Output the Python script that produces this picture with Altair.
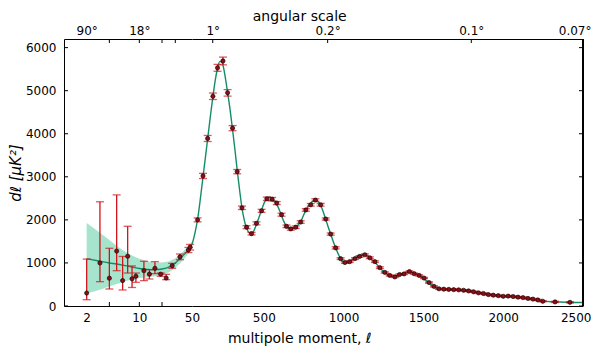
import altair as alt
import pandas as pd

# ---------------- data ----------------
# low-l points (log panel)
ell_low = [2, 3, 4, 5, 6, 7, 8, 9, 11.5, 13.6, 16.1, 19.2, 22.7, 27.3, 34.6, 44.8, 47.2]
d_low = [300, 1000, 645, 1275, 590, 1155, 630, 690, 820, 740, 875, 740, 650, 935, 1140, 1300, 1365]
lo_low = [146, 565, 395, 820, 372, 766, 430, 550, 589, 627, 751, 689, 611, 875, 1075, 1240, 1300]
hi_low = [1090, 2420, 1340, 2580, 1150, 1851, 930, 766, 1038, 843, 1030, 766, 736, 990, 1207, 1360, 1430]

# high-l binned points (linear panel)
ell_high = [85, 119, 148, 181, 210, 244, 273, 304, 333, 363,
            392, 423, 454, 486, 519, 552, 581, 611, 642, 669,
            700, 731, 763, 794, 823, 856, 888, 919, 950, 981,
            1008, 1038, 1071, 1100, 1133, 1164, 1196, 1227, 1258, 1289,
            1321, 1350, 1379, 1412, 1442, 1473, 1504, 1535, 1566, 1597,
            1628, 1659, 1690, 1721, 1752, 1783, 1814, 1845, 1876, 1907,
            1938, 1969, 2000, 2031, 2062, 2093, 2124, 2155, 2186, 2217,
            2248, 2325, 2418]
d_high = [2000, 3020, 3890, 4870, 5530, 5690, 4950, 4130, 3120, 2280,
          1830, 1680, 1920, 2210, 2490, 2480, 2390, 2120, 1850, 1790,
          1830, 1950, 2230, 2350, 2460, 2350, 2020, 1670, 1350, 1100,
          1010, 1030, 1100, 1150, 1190, 1120, 1030, 890, 780, 710,
          675, 730, 745, 800, 750, 710, 650, 545, 455, 400,
          390, 385, 380, 375, 365, 350, 330, 305, 290, 265,
          250, 240, 225, 230, 220, 205, 195, 175, 160, 140,
          110, 95, 85]
err_high = [45, 60, 70, 75, 80, 90, 75, 60, 50, 40,
            35, 30, 35, 35, 40, 40, 35, 35, 30, 30,
            30, 30, 30, 30, 30, 30, 25, 25, 25, 20,
            20, 20, 20, 20, 20, 20, 20, 20, 15, 15,
            15, 15, 15, 15, 15, 15, 15, 15, 15, 15,
            15, 15, 15, 15, 15, 15, 15, 15, 15, 15,
            15, 15, 15, 15, 15, 15, 15, 15, 15, 15,
            15, 15, 15]

# best-fit model curve
model_l_low = [2, 3, 4, 5, 6, 8, 10, 13, 16, 20, 25, 30, 35, 40, 45, 50]
model_d_low = [1100, 1040, 1000, 975, 950, 905, 870, 850, 845, 860, 910, 1000, 1110, 1210, 1310, 1430]
band_hi = [1930, 1700, 1530, 1400, 1300, 1170, 1100, 1040, 1010, 1010, 1040, 1110, 1210, 1300, 1390, 1500]
band_lo = [290, 380, 450, 510, 560, 620, 650, 670, 690, 720, 790, 880, 1000, 1110, 1220, 1360]

model_l_high = [50, 60, 70, 85, 100, 119, 135, 148, 165, 181, 195, 210, 225, 238, 252, 273, 290, 304, 320, 333,
                348, 363, 378, 392, 408, 423, 438, 454, 470, 486, 503, 520, 536, 552, 567, 581, 596, 611, 626, 642,
                656, 669, 685, 700, 716, 731, 747, 763, 778, 794, 809, 823, 838, 856, 872, 888, 903, 919, 935, 950,
                966, 981, 995, 1010, 1025, 1040, 1056, 1071, 1086, 1100, 1118, 1133, 1148, 1164, 1180, 1196, 1211,
                1227, 1242, 1258, 1273, 1289, 1305, 1321, 1336, 1350, 1365, 1380, 1396, 1412, 1427, 1442, 1458,
                1473, 1489, 1504, 1520, 1535, 1551, 1566, 1582, 1597, 1628, 1659, 1690, 1721, 1752, 1783, 1814,
                1845, 1876, 1907, 1938, 1969, 2000, 2031, 2062, 2093, 2124, 2155, 2186, 2217, 2248, 2300, 2350,
                2400, 2450, 2500]
model_d_high = [1430, 1560, 1720, 2010, 2420, 3000, 3480, 3880, 4400, 4860, 5230, 5520, 5680, 5660, 5450, 4960, 4520, 4100, 3600, 3160,
                2700, 2280, 1990, 1810, 1700, 1680, 1750, 1900, 2060, 2230, 2400, 2500, 2530, 2490, 2430, 2360, 2240, 2100, 1960, 1850,
                1800, 1785, 1795, 1830, 1890, 1960, 2090, 2220, 2310, 2380, 2440, 2460, 2430, 2340, 2190, 2010, 1840, 1670, 1500, 1350,
                1210, 1100, 1040, 1010, 1010, 1035, 1075, 1110, 1145, 1170, 1190, 1190, 1165, 1120, 1070, 1020, 955,
                890, 830, 780, 740, 712, 690, 685, 700, 722, 748, 770, 790, 797, 788, 762, 735,
                705, 670, 630, 585, 540, 490, 450, 420, 402, 390, 385, 380, 374, 365, 350, 330,
                308, 288, 268, 252, 240, 230, 225, 218, 205, 193, 176, 158, 138, 118, 100, 92,
                86, 82, 80]

# axis ticks / labels
y_ticks = [0, 1000, 2000, 3000, 4000, 5000, 6000]
bottom_left_labels = [2, 10, 50]
bottom_right_labels = [500, 1000, 1500, 2000, 2500]
bottom_left_ticks = [4, 10, 20]
top_left_vals = [2, 10]
top_left_text = ["90°", "18°"]
top_left_ticks = [4, 10, 20, 30]
top_right_vals = [180, 900, 1800, 2500]
top_right_text = ["1°", "0.2°", "0.1°", "0.07°"]
top_right_ticks = [180, 900, 1800]

# ---------------- styling ----------------
FONT = "DejaVu Sans"
H = 267
WL = 128
WR = 391
YMAX = 6200
GREEN = "#138c68"
MINT = "#a6e4cd"
RED = "#d0141a"
DOT = "#8c0d14"

low = pd.DataFrame({"l": ell_low, "d": d_low, "lo": lo_low, "hi": hi_low})
high = pd.DataFrame({"l": ell_high, "d": d_high, "err": err_high})
high["lo"] = high["d"] - high["err"]
high["hi"] = high["d"] + high["err"]
band = pd.DataFrame({"l": model_l_low, "d": model_d_low, "lo": band_lo, "hi": band_hi})
model_high = pd.DataFrame({"l": model_l_high, "d": model_d_high})


def label_expr(vals, texts):
    s = ""
    for v, t in zip(vals, texts):
        s += f"datum.value == {v} ? '{t}' : "
    return s + "''"


yscale = alt.Scale(domain=[0, YMAX], nice=False, zero=True)
axis_common = dict(labelFont=FONT, labelFontSize=12, labelColor="black", grid=False,
                   ticks=False, domain=True, domainColor="black", domainWidth=1,
                   labelOverlap=False)


def panel(xscale, width, points, model, bottom_vals, bottom_ticks, top_vals, top_text, top_ticks,
          left=True, band_df=None):
    xs = alt.Scale(**xscale)
    xn = alt.X("l:Q", scale=xs, axis=None)
    yn = alt.Y("d:Q", scale=yscale, axis=None)
    flush = dict(labelFlush=False) if left else dict(labelFlush=True, labelFlushOffset=8)
    layers = []
    if band_df is not None:
        layers.append(alt.Chart(band_df).mark_area(color=MINT, opacity=1).encode(
            x=xn, y=alt.Y("lo:Q", scale=yscale, axis=None), y2="hi:Q"))
    if left:
        y_main = alt.Y("d:Q", scale=yscale,
                       axis=alt.Axis(orient="left", values=y_ticks, format="d", labelPadding=8,
                                     title="dℓ [μK²]", titleFont=FONT, titleFontSize=15,
                                     titleFontStyle="italic", titleFontWeight="normal", titlePadding=2,
                                     titleColor="black", labelFlush=False, **axis_common))
    else:
        y_main = yn
    layers.append(alt.Chart(model).mark_line(color=GREEN, strokeWidth=1.4, interpolate="monotone").encode(
        x=alt.X("l:Q", scale=xs,
                axis=alt.Axis(orient="bottom", values=bottom_vals, format="d", labelPadding=6,
                              title=None, **flush, **axis_common)),
        y=y_main))
    layers.append(alt.Chart(points).mark_rule(color=RED, strokeWidth=1.3).encode(
        x=xn, y=alt.Y("lo:Q", scale=yscale, axis=None), y2="hi:Q"))
    layers.append(alt.Chart(points).mark_tick(color=RED, orient="horizontal", size=8, thickness=1.3).encode(
        x=xn, y=alt.Y("lo:Q", scale=yscale, axis=None)))
    layers.append(alt.Chart(points).mark_tick(color=RED, orient="horizontal", size=8, thickness=1.3).encode(
        x=xn, y=alt.Y("hi:Q", scale=yscale, axis=None)))
    layers.append(alt.Chart(points).mark_circle(size=18, color=DOT, stroke="black", strokeWidth=0.6, opacity=1).encode(
        x=xn, y=yn))
    # top axis with inward ticks
    layers.append(alt.Chart(pd.DataFrame({"t": top_ticks})).mark_rule(color="black").encode(
        x=alt.X("t:Q", scale=xs,
                axis=alt.Axis(orient="top", values=top_vals, labelExpr=label_expr(top_vals, top_text),
                              labelPadding=2, title=None, **flush, **axis_common)),
        y=alt.value(0), y2=alt.value(4)))
    if bottom_ticks:
        layers.append(alt.Chart(pd.DataFrame({"t": bottom_ticks})).mark_rule(color="black").encode(
            x=alt.X("t:Q", scale=xs, axis=None), y=alt.value(H - 4), y2=alt.value(H)))
    # y inward ticks
    yt = pd.DataFrame({"v": y_ticks})
    if left:
        layers.append(alt.Chart(yt).mark_rule(color="black").encode(
            y=alt.Y("v:Q", scale=yscale, axis=None), x=alt.value(0), x2=alt.value(4)))
    else:
        layers.append(alt.Chart(yt).mark_rule(color="black").encode(
            y=alt.Y("v:Q", scale=yscale, axis=None), x=alt.value(width - 4), x2=alt.value(width)))
        layers.append(alt.Chart(yt).mark_rule(color="black", strokeWidth=2).encode(
            x=alt.value(width), y=alt.value(0), y2=alt.value(H)))
    return alt.layer(*layers).resolve_axis(x="independent", y="independent").properties(width=width, height=H)


left = panel(dict(type="log", domain=[1, 50], nice=False), WL, low, band, bottom_left_labels,
             bottom_left_ticks, top_left_vals, top_left_text, top_left_ticks, left=True, band_df=band)
right = panel(dict(type="linear", domain=[50, 2500], nice=False, zero=False), WR, high, model_high,
              bottom_right_labels, [], top_right_vals, top_right_text, top_right_ticks, left=False)

inner = alt.hconcat(left, right, spacing=0, bounds="flush").resolve_scale(x="independent").properties(
    title=alt.TitleParams("angular scale", font=FONT, fontSize=14, fontWeight="normal", color="black",
                          anchor="middle", offset=0))

chart = alt.vconcat(inner).properties(
    title=alt.TitleParams("multipole moment, ℓ", orient="bottom", font=FONT, fontSize=14,
                          fontWeight="normal", color="black", anchor="middle", offset=9),
    padding={"left": 0, "top": 2, "right": 0, "bottom": 0},
    background="white",
).configure_view(strokeWidth=0, stroke="transparent")

chart.save("out.html", embed_options={"renderer": "svg", "actions": False})
